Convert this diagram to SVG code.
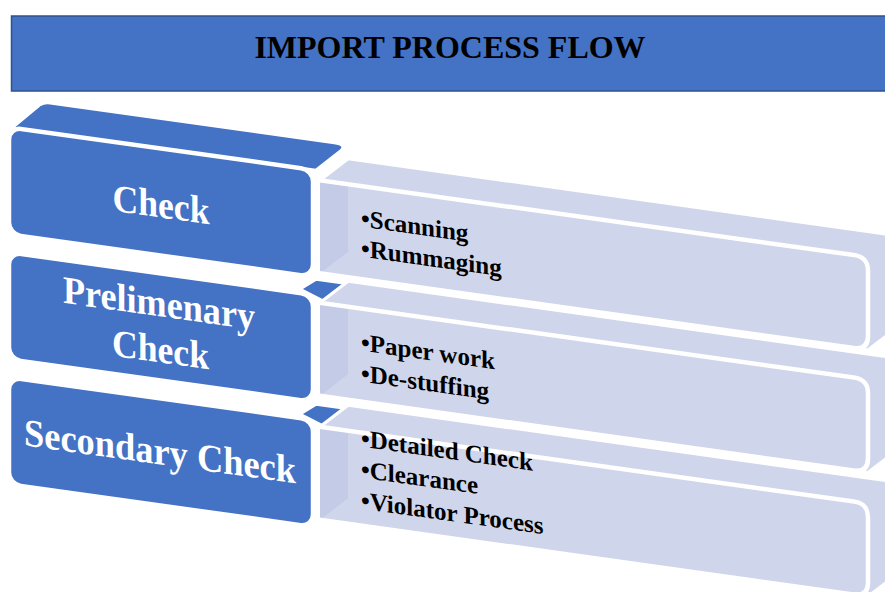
<svg xmlns="http://www.w3.org/2000/svg" width="885" height="592" viewBox="0 0 885 592">
  <defs>
    <style>
      .bar{fill:#4472C4;stroke:#2F528F;stroke-width:1.5}
      .blue{fill:#4472C4;stroke:#fff;stroke-width:4.5;stroke-linejoin:round}
      .lid{fill:#4472C4;stroke:#fff;stroke-width:3;stroke-linejoin:round}
      .slab{fill:#CFD5EA;stroke:#fff;stroke-width:3;stroke-linejoin:round}
      .side{fill:#C3CBE6}
      .rim{fill:none;stroke:#fff;stroke-width:4.5;stroke-linejoin:round}
      .head{font-family:"Liberation Serif","Times New Roman",serif;font-weight:bold;font-size:32px;fill:#000;text-anchor:middle}
      .lbl{font-family:"Liberation Serif","Times New Roman",serif;font-weight:bold;font-size:39px;fill:#fff;text-anchor:middle}
      .item{font-family:"Liberation Serif","Times New Roman",serif;font-weight:bold;font-size:25px;fill:#000}
    </style>
    <!-- light detail slab: top face, right side and front face, front top edge at y=0 -->
    <path id="slab" d="M320,0 L348,-25.5 L896,-25.5 L896,67.5 L868,93 L320,93 Z"/>
    <!-- shaded strip at the left end of a slab -->
    <path id="strip" d="M320,2 L348,2 L348,67.5 L320,93 Z"/>
    <!-- white outline of a slab's front face -->
    <path id="rim" d="M318,0 L854,0 Q868,0 868,14 L868,79 Q868,93 854,93 L318,93"/>
    <!-- visible corner of a lower blue block's top face -->
    <path id="corner" d="M300,-4 L316,-16 L350,-16 L324,5 Z"/>
  </defs>

  <!-- heading bar -->
  <g id="title">
    <rect class="bar" x="11.5" y="16" width="880" height="75"/>
    <text class="head" x="450" y="58">IMPORT PROCESS FLOW</text>
  </g>

  <!-- stacked blocks, sheared to follow the tilted plane -->
  <g transform="skewY(7.97)">
    <g id="check">
      <path class="lid" d="M12,126 L40,99 Q44,96 50,96 L334,96 Q348,96 340,104 L316,126 Z"/>
      <use href="#slab" class="slab" y="135.5"/>
      <use href="#strip" class="side" y="135.5"/>
      <use href="#rim" class="rim" y="135.5"/>
      <rect class="blue" x="9" y="126" width="304" height="107" rx="12"/>
      <text class="lbl" x="161" y="195" textLength="97" lengthAdjust="spacingAndGlyphs">Check</text>
      <text class="item" x="361" y="176">•Scanning</text>
      <text class="item" x="361" y="206">•Rummaging</text>
    </g>

    <g id="preliminary-check">
      <use href="#corner" class="lid" y="251"/>
      <use href="#slab" class="slab" y="258"/>
      <use href="#strip" class="side" y="258"/>
      <use href="#rim" class="rim" y="258"/>
      <rect class="blue" x="9" y="251" width="304" height="107" rx="12"/>
      <text class="lbl" x="159" y="294" textLength="192" lengthAdjust="spacingAndGlyphs">Prelimenary</text>
      <text class="lbl" x="160.5" y="340" textLength="97" lengthAdjust="spacingAndGlyphs">Check</text>
      <text class="item" x="361" y="300">•Paper work</text>
      <text class="item" x="361" y="331">•De-stuffing</text>
    </g>

    <g id="secondary-check">
      <use href="#corner" class="lid" y="376"/>
      <use href="#slab" class="slab" y="382"/>
      <use href="#strip" class="side" y="382"/>
      <use href="#rim" class="rim" y="382"/>
      <rect class="blue" x="9" y="376" width="304" height="107" rx="12"/>
      <text class="lbl" x="160" y="442" textLength="272" lengthAdjust="spacingAndGlyphs">Secondary Check</text>
      <text class="item" x="361" y="396">•Detailed Check</text>
      <text class="item" x="361" y="427">•Clearance</text>
      <text class="item" x="361" y="458">•Violator Process</text>
    </g>
  </g>
</svg>
